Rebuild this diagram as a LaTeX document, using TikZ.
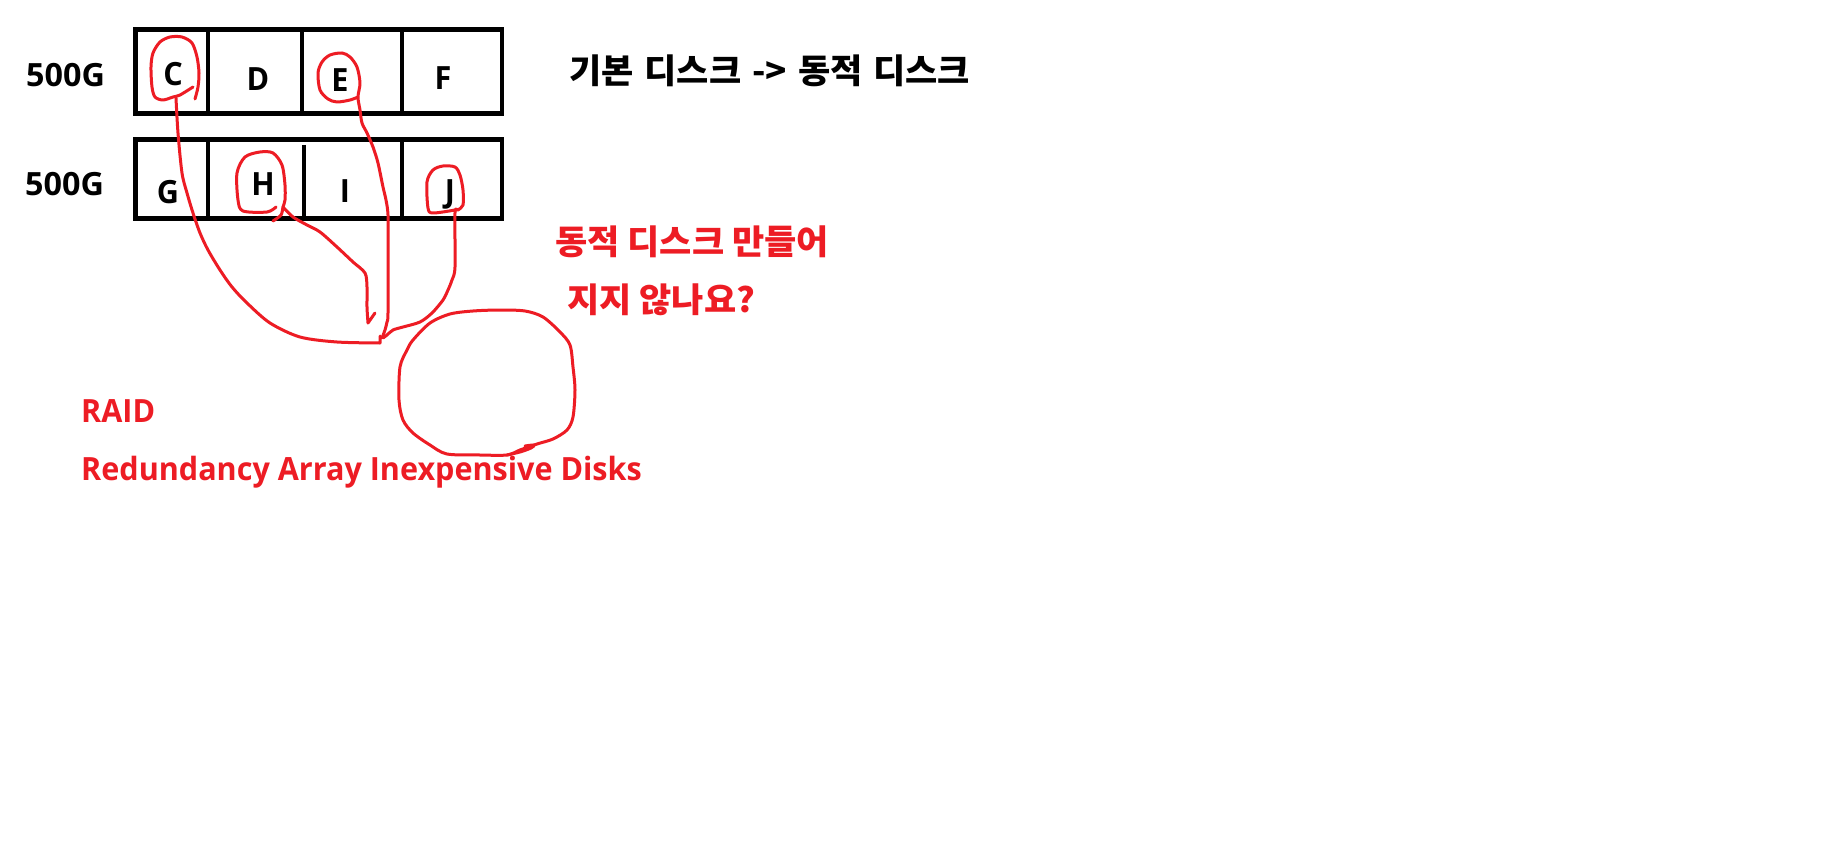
\documentclass[tikz,border=0pt]{standalone}
\usepackage{fontspec}
\setmainfont{Open Sans}
\newfontfamily\lat{Open Sans}[UprightFont=* Bold, FakeStretch=0.955]
\newfontfamily\latw{Open Sans}[UprightFont=* Bold, FakeStretch=1.01]
\newfontfamily\kr{Noto Sans CJK KR}[FakeStretch=1.03]
\definecolor{penred}{RGB}{237,28,36}
\newcommand{\wsp}{\hspace{3pt} }
\begin{document}
\begin{tikzpicture}[x=1pt,y=-1pt,
  txt/.style={inner sep=0pt,font=\fontsize{32}{38}\selectfont\lat},
  sizetxt/.style={inner sep=0pt,font=\fontsize{32}{38}\selectfont\latw},
  krtxt/.style={inner sep=0pt,font=\fontsize{34}{40}\selectfont\kr\bfseries},
  box/.style={draw=black,line width=4.5pt},
  pen/.style={draw=penred,line width=3pt,line cap=round,line join=round}]
\useasboundingbox[fill=white] (0,0) rectangle (1840,856);

% disk rows
\draw[box] (135.5,29.5) rectangle (502,113.5);
\draw[box] (208,29.5) -- (208,116) (302,29.5) -- (302,116) (402,29.5) -- (402,116);
\draw[box] (135.5,139.5) rectangle (502,218.5);
\draw[box] (208,139.5) -- (208,218.5) (304,145) -- (304,218.5) (402,139.5) -- (402,218.5);

\node[sizetxt,anchor=base west] (s1) at (26,87) {500G};
\node[sizetxt,anchor=base west] (s2) at (25,196) {500G};

\node[txt,anchor=base] (C) at (173,86) {C};
\node[txt,anchor=base] (D) at (258,91) {D};
\node[txt,anchor=base] (E) at (340,92) {E};
\node[txt,anchor=base] (F) at (443,90) {F};
\node[txt,anchor=base] (G) at (168,204) {G};
\node[txt,anchor=base] (H) at (263,195) {H};
\node[txt,anchor=base] (I) at (345,203) {I};
\node[txt,anchor=base] (J) at (450,203) {J};

\node[krtxt,anchor=base west] (t1) at (569,84) {기본\wsp 디스크\wsp ->\wsp 동적\wsp 디스크};
\node[krtxt,anchor=base west,text=penred] (t2) at (555,254) {동적 디스크 만들어};
\node[krtxt,anchor=base west,text=penred] (t3) at (567,312) {지지 않나요?};
\node[txt,anchor=base west,text=penred] (raid) at (81,422) {RAID};
\node[txt,anchor=base west,text=penred] (full) at (81,480) {Redundancy Array Inexpensive Disks};

% red pen strokes
% C loop and line
\draw[pen] plot[smooth] coordinates {(193,87) (180,95) (173,97) (163,100) (155,97) (152,87) (151,67) (153,53) (160,42) (170,37) (182,37) (192,43) (197,57) (199,73) (198,87) (195,99)};
\draw[pen] plot[smooth] coordinates {(176,98) (178,133) (182,173) (187,193) (193,213) (200,233) (208,250) (220,270) (232,287) (247,303) (270,323) (300,337) (337,342) (380,343)} -- (380,336);
% H loop and line
\draw[pen] plot[smooth] coordinates {(276,207) (267,212) (243,211) (238,200) (237,173) (245,157) (260,152) (273,153) (282,165) (285,185) (285,200) (283,207) (281,215) (273,221)};
\draw[pen] plot[smooth] coordinates {(283,207) (293,217) (307,225) (320,232) (337,247) (353,262) (365,273) (367,287) (367,307) (368,323)} -- (375,313);
% E loop and line
\draw[pen] plot[smooth] coordinates {(358,97) (350,100) (337,102) (328,99) (320,90) (318,73) (322,62) (330,55) (342,53) (350,57) (357,67) (360,83) (358,97) (360,110) (362,123) (367,133) (373,147) (378,163) (383,187) (386,200) (388,215) (388,250) (388,313) (387,322) (385,330) (382,338)};
% J loop and line
\draw[pen] plot[smooth] coordinates {(455,210) (433,213) (428,208) (427,182) (433,170) (443,166) (455,167) (460,175) (463,190) (463,205) (458,210) (455,213) (455,267) (452,280) (448,290) (443,300) (432,313) (420,322) (403,327) (393,330) (387,335) (383,338)};
% big circle
\draw[pen] plot[smooth cycle] coordinates {(473,311) (500,310) (525,311) (543,317) (560,332) (570,345) (573,367) (575,390) (573,417) (567,430) (553,439) (537,444) (520,450) (507,455) (480,455) (447,454) (430,445) (413,433) (403,420) (399,400) (400,367) (407,350) (413,340) (430,323) (450,314)};
\draw[pen] plot[smooth] coordinates {(507,455) (520,452) (531,448) (534,445) (525,446)};
\end{tikzpicture}
\end{document}
